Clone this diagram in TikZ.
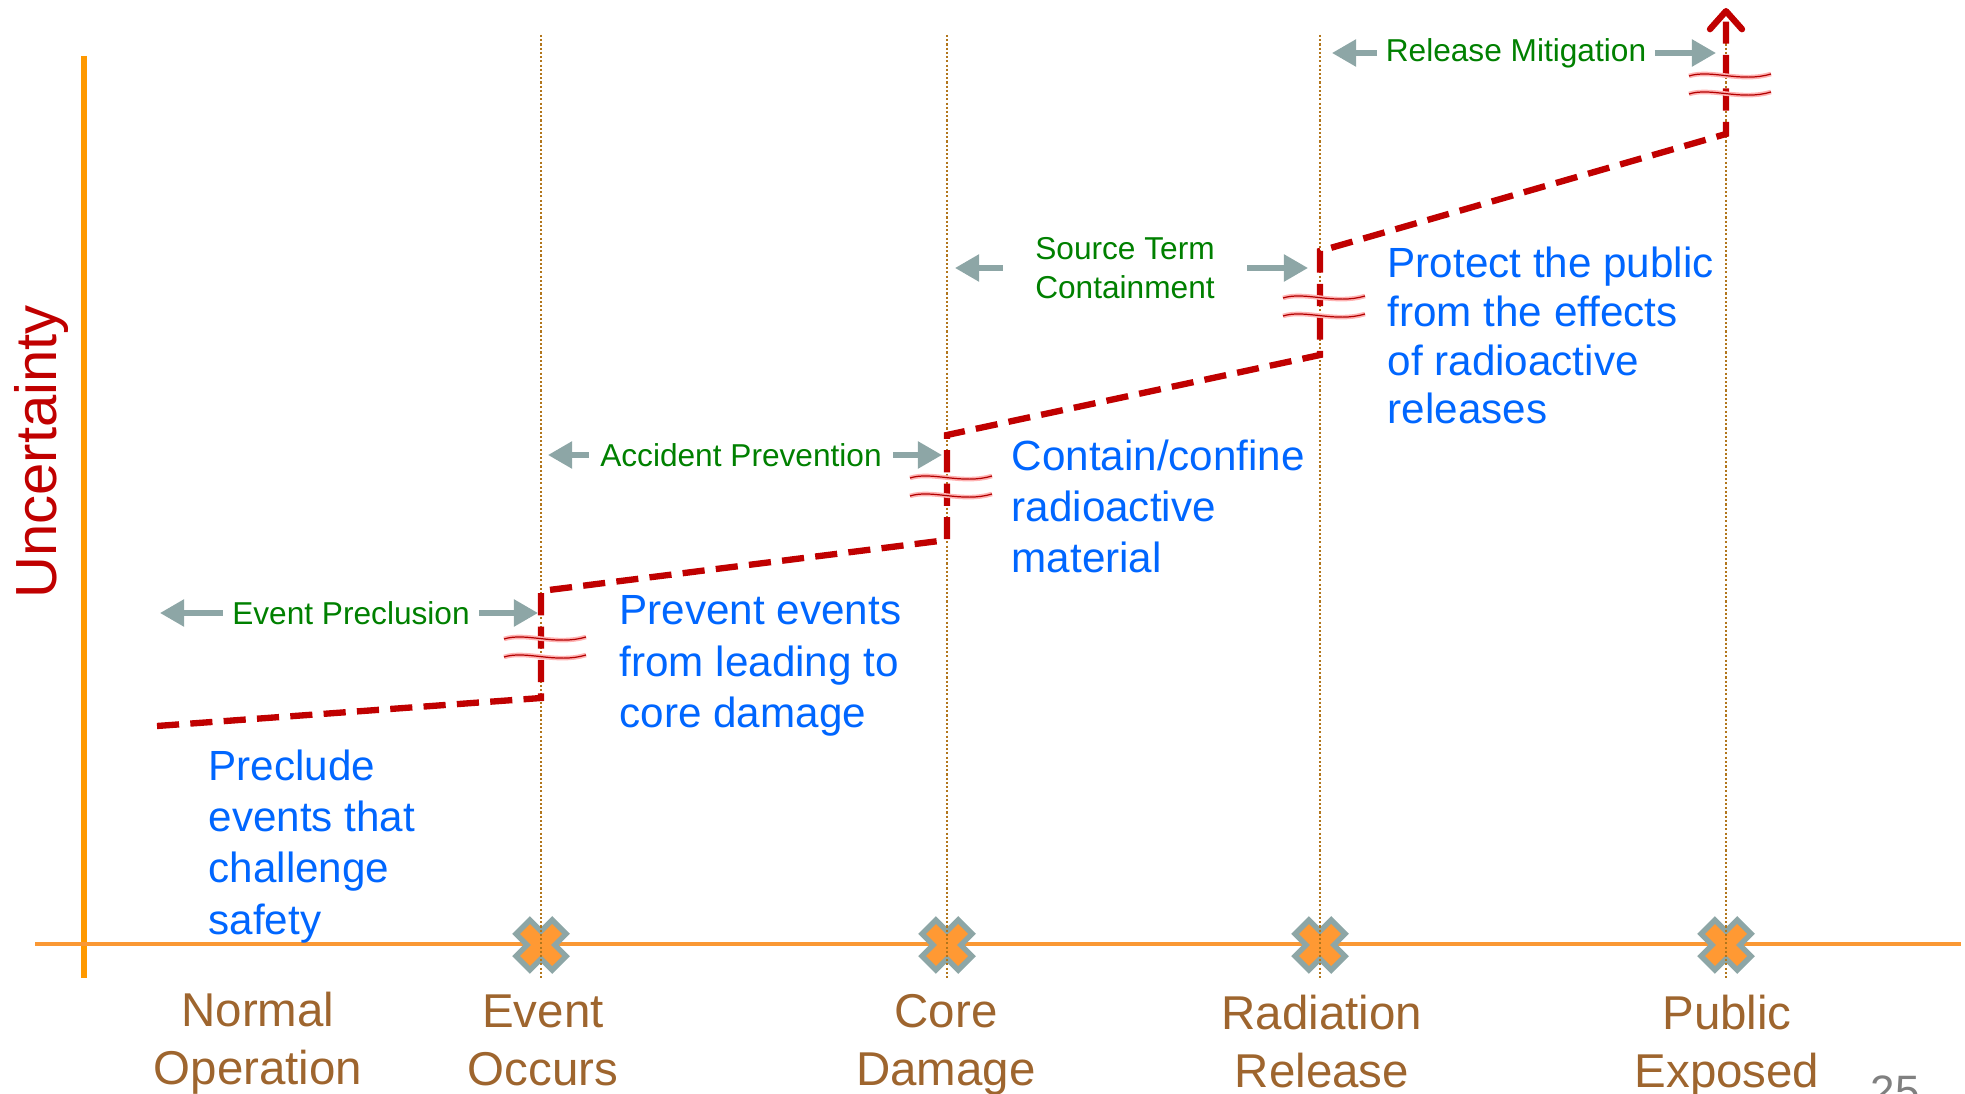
\documentclass[tikz,border=0pt]{standalone}
\usepackage{fontspec}
\setmainfont{Liberation Sans}
\usetikzlibrary{arrows.meta}

\definecolor{uncred}{RGB}{192,0,0}
\definecolor{axisorange}{RGB}{255,153,0}
\definecolor{baseorange}{RGB}{250,152,52}
\definecolor{crossorange}{RGB}{255,153,51}
\definecolor{pointgray}{RGB}{141,166,166}
\definecolor{dotbrown}{RGB}{178,118,28}
\definecolor{phasebrown}{RGB}{158,101,46}
\definecolor{goalblue}{RGB}{0,102,255}
\definecolor{stratgreen}{RGB}{0,128,0}
\definecolor{pagegray}{RGB}{128,128,128}

\begin{document}
\begin{tikzpicture}[x=0.01cm,y=-0.01cm,>={Triangle[length=0.24cm,width=0.26cm]},
  phase/.style={text=phasebrown,align=center,anchor=north,inner sep=0pt,font=\fontsize{13.5}{16.5}\selectfont},
  goal/.style={text=goalblue,align=left,anchor=north west,inner sep=0pt,font=\fontsize{12}{14.6}\selectfont},
  strategy/.style={text=stratgreen,align=center,inner ysep=0pt,font=\fontsize{9}{11.1}\selectfont},
  pointer/.style={->,draw=pointgray,fill=pointgray,line width=1.5pt},
  marker/.style={draw=dotbrown,line width=0.55pt,dash pattern=on 0.6pt off 0.6pt},
  uncline/.style={draw=uncred,line width=1.8pt,dash pattern=on 6.3pt off 3.2pt,
    -{Straight Barb[length=0.18cm,width=0.32cm,round]}},
  squig/.style={draw=red!30,line width=1.3pt,postaction={draw=red!70!black,line width=0.35pt}},
  xrim/.style={draw=pointgray,line width=0.25cm},
  xfill/.style={draw=crossorange,line width=0.14cm}]
  \useasboundingbox (0,0) rectangle (1965,1094);

  % axes
  \draw[axisorange,line width=0.06cm] (84,56) -- (84,978);
  \draw[baseorange,line width=0.045cm] (35,944) -- (1961,944);

  % milestones
  \foreach \px in {541,947,1320,1726} {
    \draw[xrim] ({\px-20},925) -- ({\px+20},965) ({\px-20},965) -- ({\px+20},925);
    \draw[xfill] ({\px-16},929) -- ({\px+16},961) ({\px-16},961) -- ({\px+16},929);
    \draw[marker] (\px,35) -- (\px,979);
  }

  % uncertainty staircase
  \draw[uncline] (157,726) -- (541,698) -- (541,591) -- (947,540) -- (947,435)
    -- (1320,355) -- (1320,251) -- (1726,134) -- (1726,8);

  \foreach \px/\py in {541/638,947/477,1320/297,1726/75} {
    \draw[squig] ({\px-37},{\py+1}) .. controls ({\px-15},{\py-6}) and ({\px+15},{\py+8}) .. ({\px+45},{\py-1});
    \draw[squig] ({\px-37},{\py+19}) .. controls ({\px-15},{\py+12}) and ({\px+15},{\py+26}) .. ({\px+45},{\py+17});
  }

  \node[rotate=90,anchor=base,inner sep=0pt,text=uncred,font=\fontsize{16.5}{20}\selectfont] (uncert) at (56,452) {Uncertainty};

  % phases
  \node[phase] (normal)  at (258,991) {Normal\\Operation};
  \node[phase] (occurs)  at (543,994) {Event\\Occurs};
  \node[phase] (coredmg) at (946,994) {Core\\Damage};
  \node[phase] (radrel)  at (1322,994) {Radiation\\Release};
  \node[phase] (pubexp)  at (1727,994) {Public\\Exposed};

  % goals
  \node[goal] (preclude) at (208,749) {Preclude\\events that\\challenge\\safety};
  \node[goal] (prevent)  at (619,595) {Prevent events\\from leading to\\core damage};
  \node[goal] (contain)  at (1011,439) {Contain/confine\\radioactive\\material};
  \node[goal,font=\fontsize{12}{13.9}\selectfont] (protect) at (1387,246) {Protect the public\\from the effects\\of radioactive\\releases};

  % strategies
  \node[strategy,inner xsep=0.09cm] (evprec)  at (351,613) {Event Preclusion};
  \node[strategy,inner xsep=0.11cm] (accprev) at (741,455) {Accident Prevention};
  \node[strategy,inner xsep=0.32cm] (srcterm) at (1125,268) {Source Term\\Containment};
  \node[strategy,inner xsep=0.08cm] (relmit)  at (1516,53) {Release Mitigation};

  \coordinate (evprecL)  at (160,613);
  \coordinate (evprecR)  at (538,613);
  \coordinate (accprevL) at (548,455);
  \coordinate (accprevR) at (942,455);
  \coordinate (srctermL) at (955,268);
  \coordinate (srctermR) at (1308,268);
  \coordinate (relmitL)  at (1332,53);
  \coordinate (relmitR)  at (1716,53);

  \path[pointer]
  (evprec) edge (evprecL) edge (evprecR)
  (accprev) edge (accprevL) edge (accprevR)
  (srcterm) edge (srctermL) edge (srctermR)
  (relmit) edge (relmitL) edge (relmitR)
  ;

  \node[anchor=north west,inner sep=0pt,text=pagegray,font=\fontsize{12.5}{15}\selectfont] (pagenum) at (1870,1075) {25};
\end{tikzpicture}
\end{document}
